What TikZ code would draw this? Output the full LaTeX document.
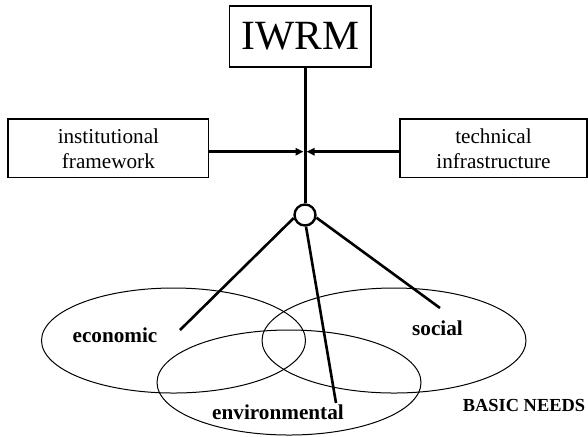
\documentclass[tikz,border=0pt]{standalone}
\usepackage{fontspec}
\setmainfont{Liberation Serif}
\usetikzlibrary{arrows.meta,shapes.geometric}
\tikzset{
  box/.style={draw, line width=0.6pt, inner sep=0pt, align=center, font=\fontsize{10.6}{12.5}\selectfont},
  ring/.style={draw, ellipse, line width=0.5pt, minimum width=132pt, minimum height=52.5pt},
  lbl/.style={font=\fontsize{10.6}{12}\selectfont\bfseries},
  link/.style={line width=1.3pt},
  feed/.style={line width=1.5pt, -{Triangle[length=4pt,width=3.6pt]}, shorten >=0.75pt}
}

\begin{document}
\begin{tikzpicture}[x=0.5pt,y=-0.5pt]
  \useasboundingbox (0,0) rectangle (588,436);

  \node[box, minimum width=70.75pt, minimum height=30.5pt, font=\fontsize{20.8}{24}\selectfont] (IWRM) at (300.3,36.5) {IWRM};
  \node[box, minimum width=100.35pt, minimum height=29.25pt] (Inst) at (108.4,148.3) {institutional\\framework};
  \node[box, minimum width=93.5pt, minimum height=29.25pt] (Tech) at (493.5,148.3) {technical\\infrastructure};
  \node[draw, circle, line width=1.2pt, minimum size=10.5pt, inner sep=0pt] (Hub) at (305,215) {};
  \coordinate (Mid) at (305,151.7);

  % the three rings
  \node[ring] (Eco) at (173.5,340.5) {};
  \node[ring] (Soc) at (394,340.5) {};
  \node[ring] (Env) at (289,382.5) {};

  \node[lbl] (EcoTxt) at (115,335) {economic};
  \node[lbl] (SocTxt) at (437.5,328) {social};
  \node[lbl] (EnvTxt) at (278,412) {environmental};
  \node[lbl, font=\fontsize{9.2}{11}\selectfont\bfseries] (Needs) at (524,405) {BASIC NEEDS};

  \coordinate (EcoEnd) at (180,330);
  \coordinate (SocEnd) at (440,308);
  \coordinate (EnvEnd) at (336,403);

  \draw[line width=1.5pt] (IWRM.south -| Hub) -- (Hub.north);
  \draw[feed] (Inst.east |- Mid) -- (Mid);
  \draw[feed] (Tech.west |- Mid) -- (Mid);

  \draw[link] (Hub.195) -- (EcoEnd);
  \draw[link] (Hub.-13) -- (SocEnd);
  \draw[link] (Hub.-85) -- (EnvEnd);

\end{tikzpicture}
\end{document}
